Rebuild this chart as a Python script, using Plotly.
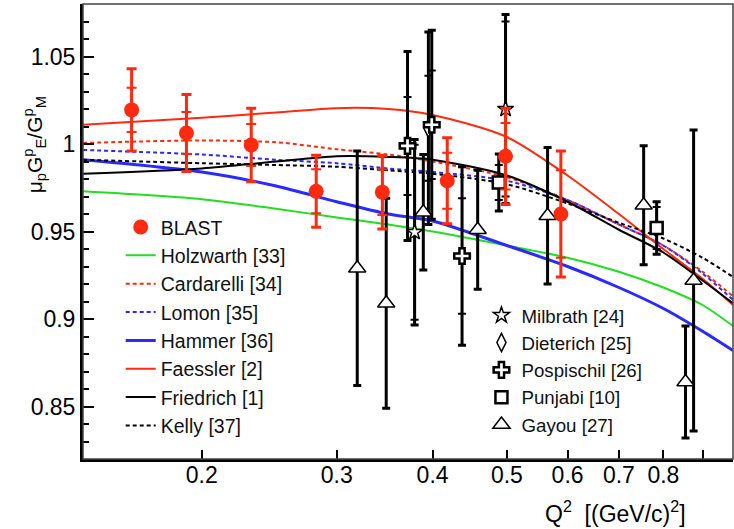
import plotly.graph_objects as go

# ---------------- data ----------------
# theory curves
q_curve = [0.14, 0.2, 0.25, 0.3, 0.35, 0.4, 0.5, 0.6, 0.7, 0.8, 0.9, 0.986]
holzwarth = [0.973, 0.9685, 0.963, 0.958, 0.954, 0.950, 0.942, 0.935, 0.927, 0.918, 0.908, 0.896]
cardarelli = [1.0006, 1.002, 1.001, 0.997, 0.994, 0.990, 0.981, 0.968, 0.954, 0.942, 0.927, 0.913]
lomon = [0.9966, 0.994, 0.991, 0.989, 0.986, 0.984, 0.979, 0.968, 0.954, 0.942, 0.926, 0.911]
hammer = [0.991, 0.984, 0.976, 0.967, 0.960, 0.956, 0.942, 0.930, 0.918, 0.906, 0.893, 0.882]
faessler = [1.011, 1.015, 1.018, 1.0205, 1.020, 1.0166, 1.004, 0.982, 0.960, 0.940, 0.923, 0.908]
friedrich = [0.983, 0.986, 0.990, 0.993, 0.9926, 0.991, 0.982, 0.967, 0.951, 0.938, 0.922, 0.909]
kelly = [0.991, 0.989, 0.988, 0.987, 0.985, 0.983, 0.977, 0.966, 0.955, 0.946, 0.935, 0.924]

# BLAST
blast_q = [0.162, 0.191, 0.232, 0.282, 0.344, 0.418, 0.498, 0.588]
blast_r = [1.0195, 1.0063, 0.9994, 0.973, 0.9725, 0.979, 0.993, 0.960]
blast_stat = [0.0126, 0.012, 0.012, 0.0126, 0.013, 0.016, 0.019, 0.025]
blast_tot = [0.0235, 0.022, 0.021, 0.0206, 0.021, 0.0246, 0.0275, 0.036]

# other experiments
milbrath_q = [0.379, 0.498]
milbrath_r = [0.9496, 1.020]
milbrath_stat = [0.050, 0.050]
milbrath_tot = [0.053, 0.054]

dieterich_q = [0.395]
dieterich_r = [1.009]
dieterich_stat = [0.030]
dieterich_tot = [0.055]

pospischil_q = [0.371, 0.399, 0.437]
pospischil_r = [0.9989, 1.011, 0.936]
pospischil_stat = [0.028, 0.031, 0.033]
pospischil_tot = [0.054, 0.054, 0.051]

punjabi_q = [0.488, 0.784]
punjabi_r = [0.978, 0.952]
punjabi_stat = [0.010, 0.012]
punjabi_tot = [0.0163, 0.015]

gayou_q = [0.319, 0.348, 0.389, 0.458, 0.565, 0.754, 0.876, 0.855]
gayou_r = [0.929, 0.909, 0.961, 0.951, 0.959, 0.965, 0.922, 0.864]
gayou_tot = [0.067, 0.060, 0.033, 0.034, 0.039, 0.034, 0.086, 0.032]

x_ticks = [0.2, 0.3, 0.4, 0.5, 0.6, 0.7, 0.8, 0.9]
x_ticktext = ["0.2", "0.3", "0.4", "0.5", "0.6", "0.7", "0.8", ""]
y_ticks = [0.85, 0.9, 0.95, 1.0, 1.05]
y_ticktext = ["0.85", "0.9", "0.95", "1", "1.05"]

FONT = "Liberation Sans, Arial, Helvetica, sans-serif"
RED = "#ff2a10"
BLUE = "#2a2aff"
GREEN = "#22dd22"

fig = go.Figure()


def curve(y, name, color, width=2, dash="solid"):
    fig.add_trace(go.Scatter(
        x=q_curve, y=y, mode="lines", name=name, legend="legend",
        line=dict(color=color, width=width, dash=dash, shape="spline", smoothing=0.8),
    ))


DASH = "4px,3px"
curve(holzwarth, "Holzwarth [33]", GREEN, 2)
curve(cardarelli, "Cardarelli [34]", RED, 2, DASH)
curve(lomon, "Lomon [35]", BLUE, 2, DASH)
curve(hammer, "Hammer [36]", BLUE, 3)
curve(faessler, "Faessler [2]", RED, 2)
curve(friedrich, "Friedrich [1]", "black", 2)
curve(kelly, "Kelly [37]", "black", 2, DASH)


def dataset(q, r, tot, stat, name, symbol, size=12, lw=2):
    fig.add_trace(go.Scatter(
        x=q, y=r, mode="markers", showlegend=False, hoverinfo="skip",
        marker=dict(size=1, color="rgba(0,0,0,0)"),
        error_y=dict(type="data", array=tot, visible=True, color="black",
                     thickness=3, width=4),
    ))
    if stat is not None:
        fig.add_trace(go.Scatter(
            x=q, y=r, mode="markers", showlegend=False, hoverinfo="skip",
            marker=dict(size=1, color="rgba(0,0,0,0)"),
            error_y=dict(type="data", array=stat, visible=True, color="black",
                         thickness=2, width=4),
        ))
    fig.add_trace(go.Scatter(
        x=q, y=r, mode="markers", name=name, legend="legend2",
        marker=dict(symbol=symbol, size=size, color="white",
                    line=dict(color="black", width=lw)),
    ))


dataset(milbrath_q, milbrath_r, milbrath_tot, milbrath_stat, "Milbrath [24]", "star", 12, 1.5)
dataset(dieterich_q, dieterich_r, dieterich_tot, dieterich_stat, "Dieterich [25]", "diamond-tall", 13, 1.5)
dataset(pospischil_q, pospischil_r, pospischil_tot, pospischil_stat, "Pospischil [26]", "cross", 13, 2.5)
dataset(punjabi_q, punjabi_r, punjabi_tot, punjabi_stat, "Punjabi [10]", "square", 12, 2.5)
dataset(gayou_q, gayou_r, gayou_tot, None, "Gayou [27]", "triangle-up", 15, 1.5)

# BLAST on top
fig.add_trace(go.Scatter(
    x=blast_q, y=blast_r, mode="markers", showlegend=False, hoverinfo="skip",
    marker=dict(size=1, color="rgba(0,0,0,0)"),
    error_y=dict(type="data", array=blast_tot, visible=True, color=RED,
                 thickness=3, width=5),
))
fig.add_trace(go.Scatter(
    x=blast_q, y=blast_r, mode="markers", showlegend=False, hoverinfo="skip",
    marker=dict(size=1, color="rgba(0,0,0,0)"),
    error_y=dict(type="data", array=blast_stat, visible=True, color=RED,
                 thickness=2, width=5),
))
fig.add_trace(go.Scatter(
    x=blast_q, y=blast_r, mode="markers", name="BLAST", legend="legend",
    marker=dict(symbol="circle", size=15, color=RED, line=dict(width=0)),
    legendrank=1,
))

for i, t in enumerate(fig.data):
    if t.name and t.legend == "legend" and t.name != "BLAST":
        t.legendrank = 10 + i

fig.update_layout(
    width=734, height=529,
    margin=dict(l=83, r=1, t=4, b=70),
    paper_bgcolor="white", plot_bgcolor="white",
    font=dict(family=FONT, color="black", size=19),
    showlegend=True,
    legend=dict(x=0.058, y=0.552, xanchor="left", yanchor="top",
                bgcolor="rgba(0,0,0,0)", font=dict(size=19.5, color="#111"),
                tracegroupgap=0, itemwidth=30),
    legend2=dict(x=0.613, y=0.357, xanchor="left", yanchor="top",
                 bgcolor="rgba(0,0,0,0)", font=dict(size=18.7, color="#111"),
                 tracegroupgap=0, itemwidth=30),
    xaxis=dict(type="log", range=[-0.8539, -0.0061],
               tickvals=x_ticks, ticktext=x_ticktext,
               ticks="inside", ticklen=9, tickwidth=2, tickcolor="black",
               ticklabelstandoff=-7,
               showgrid=False, zeroline=False,
               showline=True, linecolor="black", linewidth=3,
               tickfont=dict(size=23, family=FONT, color="black")),
    yaxis=dict(range=[0.820, 1.080],
               tickvals=y_ticks, ticktext=y_ticktext,
               ticks="inside", ticklen=11, tickwidth=2, tickcolor="black",
               minor=dict(dtick=0.01, ticks="inside", ticklen=6, tickwidth=2, tickcolor="black"),
               showgrid=False, zeroline=False,
               showline=True, linecolor="black", linewidth=3,
               tickfont=dict(size=23, family=FONT, color="black")),
    shapes=[dict(type="rect", xref="paper", yref="paper", x0=0, x1=1, y0=0, y1=1,
                 line=dict(color="#444", width=1.5), fillcolor="rgba(0,0,0,0)")],
    annotations=[
        dict(text="μ<sub>p</sub>G<sup>p</sup><sub>E</sub>/G<sup>p</sup><sub>M</sub>",
             xref="paper", yref="paper", x=-0.075, y=0.69, xanchor="center", yanchor="middle",
             textangle=-90, showarrow=False, font=dict(size=21, color="black")),
        dict(text="Q<sup>2</sup>  [(GeV/c)<sup>2</sup>]",
             xref="paper", yref="paper", x=0.931, y=-0.116, xanchor="right", yanchor="middle",
             showarrow=False, font=dict(size=23, color="black")),
    ],
)

fig.write_html("out.html", config={"displayModeBar": False},
               post_script="document.body.style.margin='0px';")
